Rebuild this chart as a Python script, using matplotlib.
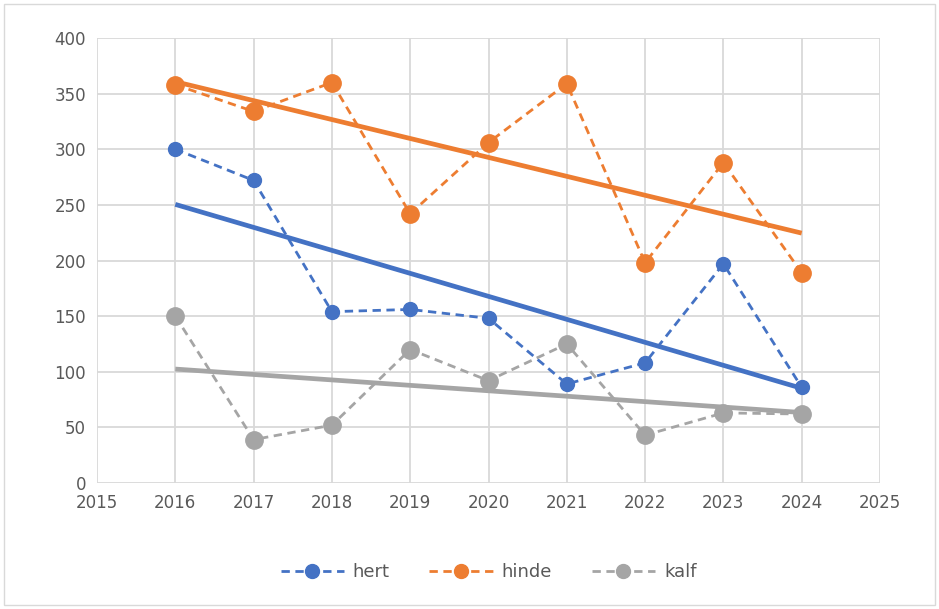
import numpy as np
import matplotlib
matplotlib.use("Agg")
import matplotlib.pyplot as plt
from matplotlib.patches import Rectangle

# Data
years = [2016, 2017, 2018, 2019, 2020, 2021, 2022, 2023, 2024]
hert = [300, 272, 154, 156, 148, 89, 108, 197, 86]
hinde = [358, 334, 360, 242, 306, 359, 198, 288, 189]
kalf = [150, 39, 52, 120, 92, 125, 43, 63, 62]

series = [
    ("hert", hert, "#4472C4", 10),
    ("hinde", hinde, "#ED7D31", 12.5),
    ("kalf", kalf, "#A5A5A5", 12.5),
]

fig = plt.figure(figsize=(9.39, 6.09), dpi=100)
ax = fig.add_axes([97 / 939, 1 - 483 / 609, (880 - 97) / 939, (483 - 38) / 609])

x = np.array(years)
for name, vals, color, ms in series:
    ax.plot(x, vals, linestyle=(0, (3, 2)), color=color, linewidth=2,
            marker="o", markersize=ms, label=name, zorder=3)

# linear trendlines
for name, vals, color, ms in series:
    k, b = np.polyfit(x, vals, 1)
    ax.plot(x, k * x + b, color=color, linewidth=3.4, solid_capstyle="butt", zorder=2)

ax.set_xlim(2015, 2025)
ax.set_ylim(0, 400)
ax.set_xticks(range(2015, 2026))
ax.set_yticks(range(0, 401, 50))
ax.grid(True, color="#D9D9D9", linewidth=1.3)
ax.set_axisbelow(True)
for s in ax.spines.values():
    s.set_visible(False)
ax.tick_params(length=0, labelsize=12, colors="#595959", pad=8)

leg = ax.legend(loc="center", bbox_to_anchor=(0.5, -0.2), ncol=3, frameon=False,
                fontsize=13, labelcolor="#595959", handlelength=3.5, columnspacing=2.2,
                handletextpad=0.5)
for h in leg.legend_handles:
    h.set_markersize(10)

fig.patches.append(Rectangle((4 / 939, 4 / 609), 931 / 939, 601 / 609, transform=fig.transFigure,
                             fill=False, edgecolor="#D9D9D9", linewidth=1))

fig.savefig("out.png", dpi=100)
